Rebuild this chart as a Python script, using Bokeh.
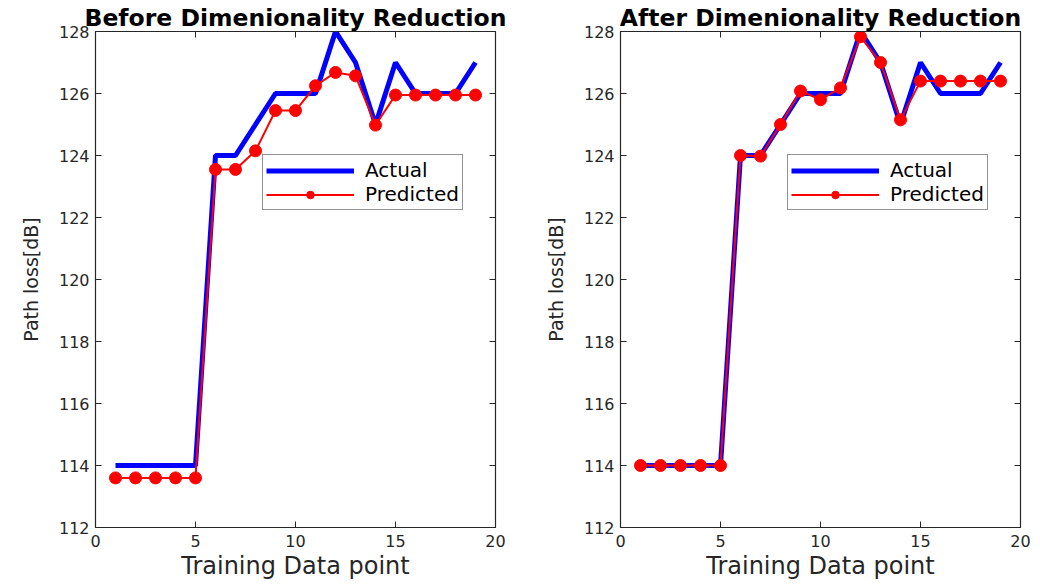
from bokeh.plotting import figure
from bokeh.layouts import row
from bokeh.models import LinearAxis, Legend, LegendItem, Range1d, FixedTicker
from bokeh.embed import file_html
from bokeh.resources import INLINE

# ---- data ----
x_points = list(range(1, 20))
before_actual = [114, 114, 114, 114, 114, 124, 124, 125, 126, 126, 126, 128, 127, 125, 127, 126, 126, 126, 127]
before_predicted = [113.6, 113.6, 113.6, 113.6, 113.6, 123.55, 123.55, 124.15, 125.45, 125.45,
                    126.25, 126.68, 126.57, 124.98, 125.95, 125.95, 125.95, 125.95, 125.95]
after_actual = [114, 114, 114, 114, 114, 124, 124, 125, 126, 126, 126, 128, 127, 125, 127, 126, 126, 126, 127]
after_predicted = [114.0, 114.0, 114.0, 114.0, 114.0, 124.0, 123.98, 125.0, 126.08, 125.8,
                   126.18, 127.83, 127.0, 125.15, 126.4, 126.4, 126.4, 126.4, 126.4]
x_ticks = [0, 5, 10, 15, 20]
y_ticks = [112, 114, 116, 118, 120, 122, 124, 126, 128]
titles = ["Before Dimenionality Reduction", "After Dimenionality Reduction"]
x_label = "Training Data point"
y_label = "Path loss[dB]"

FONT = "DejaVu Sans"
AX = "#262626"


def make_fig(title, actual, predicted, width, mbl, mbr):
    p = figure(width=width, height=585, output_backend="svg", toolbar_location=None,
               x_range=Range1d(0, 20), y_range=Range1d(112, 128),
               min_border_left=mbl, min_border_right=mbr, min_border_top=31,
               min_border_bottom=58)
    p.title.text = title
    p.title.text_font = FONT
    p.title.text_font_style = "bold"
    p.title.text_font_size = "23.5px"
    p.title.align = "center"
    p.title.text_color = "black"
    p.title.standoff = 0
    p.title.offset = 0
    p.grid.visible = False
    p.outline_line_color = AX
    p.outline_line_width = 1.2

    for ax in (p.xaxis[0], p.yaxis[0]):
        ax.major_tick_in = 6
        ax.major_tick_out = 0
        ax.minor_tick_line_color = None
        ax.axis_line_color = AX
        ax.major_tick_line_color = AX
        ax.major_label_text_font = FONT
        ax.major_label_text_font_size = "16px"
        ax.major_label_text_color = AX
        ax.axis_label_text_font = FONT
        ax.axis_label_text_font_style = "normal"
        ax.axis_label_text_color = AX
    p.xaxis.ticker = FixedTicker(ticks=x_ticks)
    p.yaxis.ticker = FixedTicker(ticks=y_ticks)
    p.xaxis.axis_label = x_label
    p.xaxis.axis_label_text_font_size = "24px"
    p.xaxis.major_label_standoff = 7
    p.xaxis.axis_label_standoff = 2
    p.yaxis.axis_label = y_label
    p.yaxis.axis_label_text_font_size = "19px"
    p.yaxis.major_label_standoff = 6
    p.yaxis.axis_label_standoff = 14

    top = LinearAxis(ticker=FixedTicker(ticks=x_ticks), major_tick_in=6, major_tick_out=0,
                     minor_tick_line_color=None,
                     major_label_overrides={t: "" for t in x_ticks},
                     major_label_standoff=0, axis_line_color=AX, major_tick_line_color=AX)
    right = LinearAxis(ticker=FixedTicker(ticks=y_ticks), major_tick_in=6, major_tick_out=0,
                       minor_tick_line_color=None,
                       major_label_overrides={t: "" for t in y_ticks},
                       major_label_standoff=0, axis_line_color=AX, major_tick_line_color=AX)
    p.add_layout(top, "above")
    p.add_layout(right, "right")

    r_act = p.line(x_points, actual, line_color="#0000FF", line_width=5)
    r_pl = p.line(x_points, predicted, line_color="#FF0000", line_width=2)
    r_pm = p.scatter(x_points, predicted, marker="circle", size=12,
                     fill_color="#FF0000", line_color="#FF0000")

    legend = Legend(items=[LegendItem(label="Actual", renderers=[r_act]),
                           LegendItem(label="Predicted", renderers=[r_pl, r_pm])],
                    location=(167, 317))
    legend.label_text_font = FONT
    legend.label_text_font_size = "20px"
    legend.label_text_color = "black"
    legend.label_standoff = 11
    legend.glyph_width = 88
    legend.glyph_height = 19
    legend.label_height = 19
    legend.spacing = 0
    legend.padding = 3
    legend.margin = 0
    legend.border_line_color = AX
    legend.border_line_width = 1
    legend.background_fill_color = "white"
    legend.background_fill_alpha = 1
    p.add_layout(legend, "center")
    return p


p1 = make_fig(titles[0], before_actual, before_predicted, 525, 95, 30)
p2 = make_fig(titles[1], after_actual, after_predicted, 507, 95, 12)
layout = row(p1, p2)

open("out.html", "w").write(file_html(layout, INLINE))
